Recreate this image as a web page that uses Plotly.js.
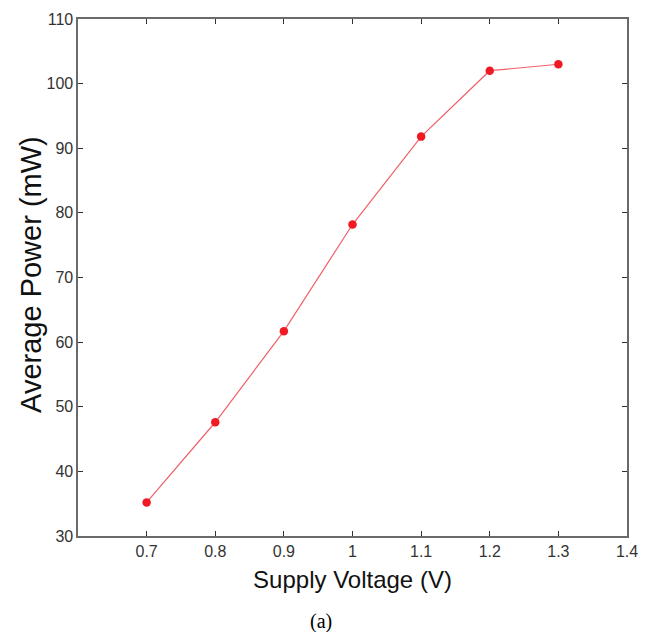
<!DOCTYPE html>
<html>
<head>
<meta charset="utf-8">
<script src="https://cdn.plot.ly/plotly-3.0.1.min.js"></script>
<style>html,body{margin:0;padding:0;background:#fff;}#chart{width:650px;height:632px;}</style>
</head>
<body>
<div id="chart"></div>
<script>
const voltage = [0.7, 0.8, 0.9, 1.0, 1.1, 1.2, 1.3];
const power = [35.2, 47.6, 61.7, 78.2, 91.8, 102.0, 103.0];
const xTickVals = [0.7, 0.8, 0.9, 1.0, 1.1, 1.2, 1.3, 1.4];
const xTickText = ["0.7", "0.8", "0.9", "1", "1.1", "1.2", "1.3", "1.4"];
const yTickVals = [30, 40, 50, 60, 70, 80, 90, 100, 110];

const trace = {
  x: voltage, y: power, type: 'scatter', mode: 'lines+markers',
  line: {color: '#f0606a', width: 1.2},
  marker: {color: '#f01a24', size: 8.5, symbol: 'circle'},
  showlegend: false, hoverinfo: 'x+y'
};

const axisCommon = {
  showgrid: false, zeroline: false, showline: true, linecolor: '#6a6a6a', linewidth: 1.6,
  mirror: 'ticks', ticks: 'inside', ticklen: 5, tickwidth: 1, tickcolor: '#333333',
  tickfont: {family: 'Liberation Sans, Arial, sans-serif', size: 16, color: '#333333'}
};

const layout = {
  width: 650, height: 632,
  margin: {l: 78, r: 23, t: 19, b: 96},
  paper_bgcolor: '#ffffff', plot_bgcolor: '#ffffff',
  xaxis: Object.assign({}, axisCommon, {
    range: [0.6, 1.4], tickvals: xTickVals, ticktext: xTickText,
    title: {text: 'Supply Voltage (V)', font: {family: 'Liberation Sans, Arial, sans-serif', size: 24, color: '#111111'}, standoff: 12}
  }),
  yaxis: Object.assign({}, axisCommon, {
    range: [30, 110], tickvals: yTickVals
  }),
  annotations: [{
    text: 'Average Power (mW)', xref: 'paper', yref: 'paper', x: -0.0856, y: 0.505,
    xanchor: 'center', yanchor: 'middle', textangle: -90, showarrow: false,
    font: {family: 'Liberation Sans, Arial, sans-serif', size: 29, color: '#111111'}
  }, {
    text: '(a)', xref: 'paper', yref: 'paper', x: 0.443, y: -0.14, xanchor: 'center', yanchor: 'top',
    showarrow: false, font: {family: 'Liberation Serif, Times New Roman, serif', size: 20, color: '#000000'}
  }]
};

Plotly.newPlot('chart', [trace], layout, {displayModeBar: false, staticPlot: true});
</script>
</body>
</html>
